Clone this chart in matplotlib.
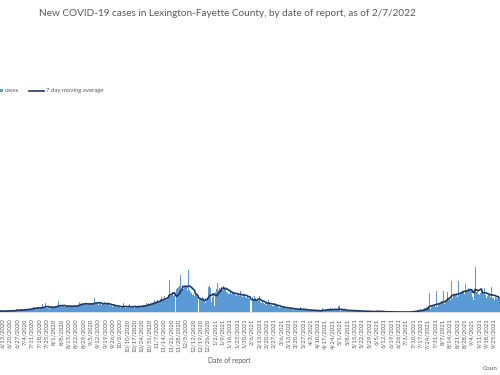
import matplotlib
matplotlib.use("Agg")
import matplotlib.pyplot as plt
import matplotlib.dates as mdates
from matplotlib.ticker import FuncFormatter
from matplotlib.patches import Rectangle
from matplotlib.lines import Line2D
import pandas as pd

# ---- data: daily new cases, one row per week starting Wed 6/10/2020 ----
start_date = "2020-06-10"
weekly_cases = [
    [12, 15, 10, 8, 14, 18, 11],
    [20, 14, 9, 12, 16, 22, 13],
    [25, 18, 30, 15, 20, 28, 22],
    [30, 22, 18, 35, 24, 28, 20],
    [45, 38, 30, 42, 55, 40, 35],
    [48, 42, 50, 38, 44, 46, 80],
    [45, 52, 90, 40, 44, 50, 38],
    [55, 60, 48, 52, 65, 58, 50],
    [110, 62, 70, 55, 60, 72, 58],
    [65, 55, 62, 70, 52, 58, 60],
    [60, 72, 58, 66, 70, 62, 100],
    [80, 95, 88, 75, 90, 82, 78],
    [92, 80, 86, 70, 95, 88, 90],
    [140, 85, 92, 78, 100, 88, 70],
    [95, 82, 100, 75, 88, 92, 80],
    [75, 62, 70, 55, 80, 66, 60],
    [58, 50, 62, 45, 55, 52, 95],
    [52, 45, 58, 40, 50, 88, 48],
    [60, 50, 58, 45, 62, 55, 52],
    [70, 58, 66, 55, 72, 64, 60],
    [90, 78, 95, 70, 85, 92, 80],
    [105, 120, 98, 115, 125, 100, 110],
    [135, 150, 130, 160, 145, 125, 150],
    [170, 320, 160, 180, 200, 165, 175],
    [0, 230, 240, 250, 260, 370, 220],
    [240, 230, 250, 260, 215, 420, 225],
    [200, 190, 175, 185, 160, 170, 180],
    [150, 0, 135, 145, 130, 150, 140],
    [110, 95, 120, 250, 260, 240, 100],
    [150, 180, 60, 200, 230, 290, 220],
    [240, 230, 250, 220, 260, 235, 240],
    [200, 190, 185, 210, 180, 195, 205],
    [180, 175, 165, 190, 170, 160, 215],
    [165, 150, 170, 175, 155, 145, 160],
    [145, 130, 0, 150, 135, 160, 140],
    [120, 105, 115, 160, 100, 95, 110],
    [90, 80, 95, 75, 85, 120, 80],
    [75, 70, 68, 80, 72, 65, 70],
    [55, 48, 52, 45, 58, 50, 45],
    [42, 38, 45, 35, 40, 44, 38],
    [32, 28, 35, 25, 30, 33, 28],
    [50, 22, 28, 20, 25, 30, 22],
    [22, 18, 25, 15, 20, 24, 18],
    [18, 14, 20, 12, 16, 15, 13],
    [40, 20, 25, 18, 38, 22, 20],
    [28, 40, 22, 30, 25, 38, 20],
    [25, 20, 63, 18, 22, 26, 20],
    [20, 16, 22, 14, 18, 20, 15],
    [15, 12, 18, 10, 14, 16, 12],
    [12, 10, 14, 8, 11, 13, 9],
    [10, 8, 12, 6, 9, 10, 7],
    [8, 6, 9, 5, 23, 8, 6],
    [6, 4, 7, 3, 5, 6, 4],
    [5, 3, 6, 2, 4, 5, 3],
    [3, 2, 4, 1, 3, 2, 3],
    [4, 3, 2, 5, 1, 0, 6],
    [8, 10, 6, 12, 5, 4, 15],
    [20, 25, 18, 30, 12, 10, 35],
    [40, 45, 50, 35, 190, 30, 55],
    [60, 70, 65, 55, 210, 50, 75],
    [85, 95, 110, 90, 210, 80, 120],
    [130, 200, 140, 125, 310, 140, 160],
    [175, 160, 185, 150, 310, 170, 195],
    [200, 215, 210, 180, 280, 225, 210],
    [240, 235, 220, 150, 120, 190, 450],
    [205, 220, 185, 170, 190, 210, 200],
    [185, 240, 170, 140, 160, 175, 180],
    [150, 250, 145, 120, 155, 140, 130],
    [160, 140],
]
cases = [v for week in weekly_cases for v in week]
dates = pd.date_range(start_date, periods=len(cases), freq="D")
series = pd.Series(cases, index=dates)
moving_avg = series.rolling(7, min_periods=1).mean()

title = "New COVID-19 cases in Lexington-Fayette County, by date of report, as of 2/7/2022"
series_labels = ["cases", "7 day moving average"]
x_label = "Date of report"
source_fragment = "Coun"

BAR = "#5B9BD5"
LINE = "#1F3864"
GRAY = "#595959"
FONT = "Lato"

fig = plt.figure(figsize=(5, 3.75), dpi=100)
ax = fig.add_axes([0, 1 - 312.3 / 375, 1, 212 / 375])

ax.bar(dates, series.values, width=1.0, color=BAR, linewidth=0)
ax.plot(dates, moving_avg.values, color=LINE, linewidth=1.2)

x0 = mdates.date2num(pd.Timestamp(start_date))
ax.set_xlim(x0 + 0.42, x0 + 477.7)
ax.set_ylim(0, 2120)

ax.xaxis.set_major_locator(mdates.WeekdayLocator(byweekday=mdates.SA))
ax.xaxis.set_major_formatter(FuncFormatter(
    lambda v, p: (lambda d: f"{d.month}/{d.day}/{d.year}")(mdates.num2date(v))))
ax.tick_params(axis="x", length=0, pad=4.5, labelsize=4.3, labelcolor=GRAY, rotation=90)
for lab in ax.get_xticklabels():
    lab.set_fontfamily(FONT)
ax.set_yticks([])
for s in ["top", "left", "right"]:
    ax.spines[s].set_visible(False)
ax.spines["bottom"].set_color("#D9D9D9")
ax.spines["bottom"].set_linewidth(0.6)

fig.text(227.5 / 500, 1 - 14 / 375, title, ha="center", va="center",
         fontsize=7.2, color=GRAY, family=FONT)
fig.text(229 / 500, 1 - 361 / 375, x_label, ha="center", va="center",
         fontsize=4.9, color=GRAY, family=FONT)
fig.text(498 / 500, 1 - 368.5 / 375, source_fragment, ha="right", va="center",
         fontsize=4.6, color=GRAY, family=FONT)

# legend (cropped on the left like the reference)
ly = 1 - 90.7 / 375
fig.patches.append(Rectangle((0 / 500, ly - 1.5 / 375), 3 / 500, 3 / 375,
                             transform=fig.transFigure, color=BAR, lw=0))
fig.text(4.5 / 500, ly, series_labels[0], ha="left", va="center",
         fontsize=4.3, color=GRAY, family=FONT)
fig.lines.append(Line2D([29 / 500, 44 / 500], [ly, ly], transform=fig.transFigure,
                        color=LINE, linewidth=1.2))
fig.text(45.5 / 500, ly, series_labels[1], ha="left", va="center",
         fontsize=4.3, color=GRAY, family=FONT)

fig.savefig("out.png", dpi=100)
